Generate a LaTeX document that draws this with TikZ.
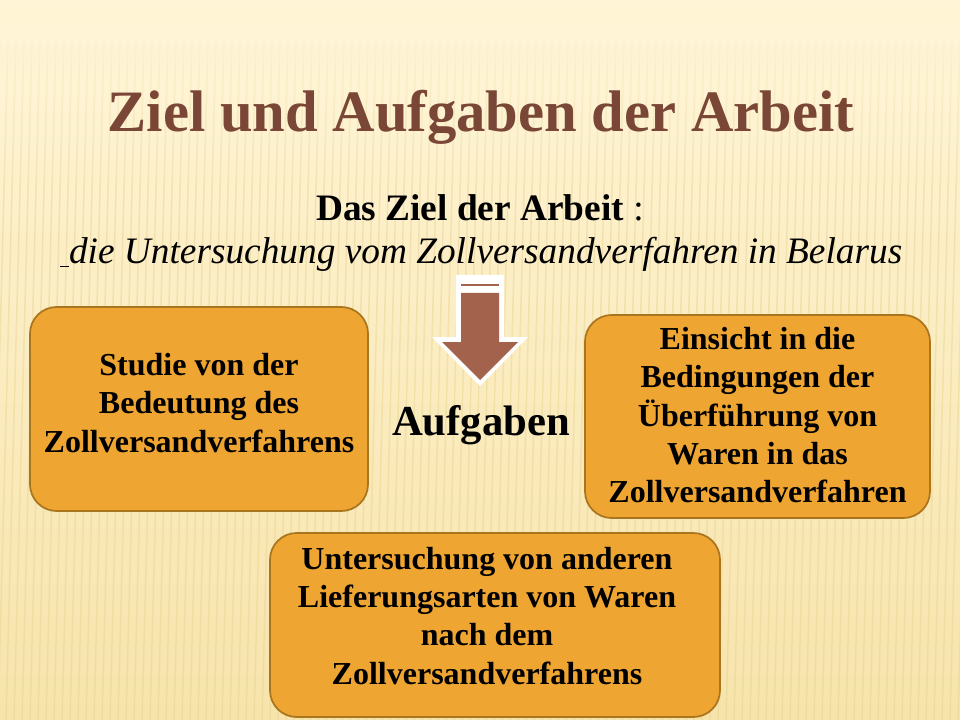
\documentclass[tikz,border=0pt]{standalone}
\usepackage{fontspec}
\setmainfont{Liberation Serif}
\usepackage{xcolor}
\usetikzlibrary{calc,positioning,fadings}
\definecolor{bgtop}{HTML}{FFF5D6}
\definecolor{bgbot}{HTML}{F7E4AC}
\definecolor{bgstripe}{HTML}{E9D28E}
\definecolor{titlebrown}{HTML}{7A4636}
\definecolor{boxfill}{HTML}{EFA531}
\definecolor{boxedge}{HTML}{A9751E}
\definecolor{arrowbrown}{HTML}{A2624C}

\begin{document}
\begin{tikzpicture}[
    x=0.75pt, y=-0.75pt,
    nosep/.style={inner sep=0},
    headline/.style={nosep, anchor=base, text=titlebrown, font=\fontsize{44}{48}\selectfont\bfseries},
    goalline/.style={nosep, anchor=base, font=\fontsize{28}{32}\selectfont},
    taskbox/.style={
        rectangle, draw=boxedge, fill=boxfill, line width=1.3pt,
        rounded corners=20pt, nosep},
    tasktext/.style={nosep, align=center, font=\fontsize{24}{28.8}\selectfont\bfseries},
    stripe/.style={draw=bgstripe, line width=1.1pt, opacity=0.45}]
\useasboundingbox (0,0) rectangle (960,720);

% background
\path[fill, top color=bgtop, bottom color=bgbot] (0,0) rectangle (960,720);
\foreach \x in {-40,-32,...,1000}
    \path[stripe] (\x,40) -- (\x-18,720);
\path[fill=bgtop, path fading=south] (0,0) rectangle (960,190);

% title and goal
\node[headline] (title) at (481,132) {Ziel und Aufgaben der Arbeit};
\node[goalline] (goalhead) at (480,221) {\textbf{Das Ziel der Arbeit} :};
\node[goalline] (goaltext) at (481,264) {\underline{\ }\textit{die Untersuchung vom Zollversandverfahren in Belarus}};

% arrow
\path[fill=white] (456,275) -- (504,275) -- (504,337) -- (528,337) -- (480,386) -- (432,337) -- (456,337) -- cycle;
\path[fill=arrowbrown] (461,293) -- (499,293) -- (499,342) -- (518,342) -- (480,380) -- (442,342) -- (461,342) -- cycle;
\path[draw=arrowbrown, line width=0.9pt] (461,285) -- (499,285);

\node[nosep, anchor=base, font=\fontsize{32}{36}\selectfont\bfseries] (tasks) at (481,435) {Aufgaben};

% task boxes
\node[taskbox, minimum width=253.5pt, minimum height=153pt] (studiebox) at (199,409) {};
\node[tasktext] (studie) at ([yshift=4.5pt]studiebox.center)
    {Studie von der\\Bedeutung des\\Zollversandverfahrens};
\node[taskbox, minimum width=258.75pt, minimum height=152.25pt] (einsichtbox) at (757.5,416.5) {};
\node[tasktext] (einsicht) at ([yshift=1pt]einsichtbox.center)
    {Einsicht in die\\Bedingungen der\\\"Uberf\"uhrung von\\Waren in das\\Zollversandverfahren};
\node[taskbox, minimum width=337.5pt, minimum height=138pt] (lieferungbox) at (495,625) {};
\node[tasktext] (lieferung) at ([xshift=-6pt, yshift=7pt]lieferungbox.center)
    {Untersuchung von anderen\\Lieferungsarten von Waren\\nach dem\\Zollversandverfahrens};

\end{tikzpicture}
\end{document}
